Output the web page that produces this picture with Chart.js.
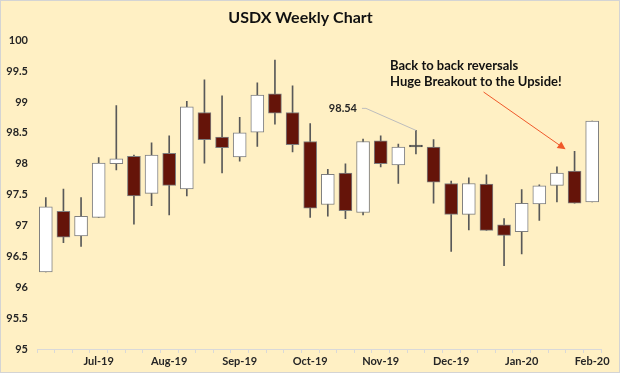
<!DOCTYPE html>
<html>
<head>
<meta charset="utf-8">
<script src="https://cdn.jsdelivr.net/npm/chart.js@4.4.1/dist/chart.umd.min.js"></script>
<style>
  html, body { margin: 0; padding: 0; background: #fff; }
  canvas { display: block; }
</style>
</head>
<body>
<canvas id="usdx" width="620" height="373"></canvas>
<script>
// weekly USDX candles, jul 2019 - feb 2020
const weeks = [
  '2019-07-01', '2019-07-08', '2019-07-15', '2019-07-22', '2019-07-29',
  '2019-08-05', '2019-08-12', '2019-08-19', '2019-08-26',
  '2019-09-02', '2019-09-09', '2019-09-16', '2019-09-23', '2019-09-30',
  '2019-10-07', '2019-10-14', '2019-10-21', '2019-10-28',
  '2019-11-04', '2019-11-11', '2019-11-18', '2019-11-25',
  '2019-12-02', '2019-12-09', '2019-12-16', '2019-12-23', '2019-12-30',
  '2020-01-06', '2020-01-13', '2020-01-20', '2020-01-27', '2020-02-03',
];
const opens = [
  96.25, 97.23, 96.83, 97.13, 98.00, 98.12, 97.52, 98.17, 97.59, 98.83,
  98.43, 98.11, 98.51, 99.13, 98.83, 98.36, 97.34, 97.85, 97.21, 98.37,
  97.98, 98.27, 98.27, 97.68, 97.18, 97.67, 97.01, 96.90, 97.35, 97.65,
  97.88, 97.38,
];
const highs = [
  97.45, 97.59, 97.45, 98.10, 98.94, 98.14, 98.34, 98.45, 99.01, 99.36,
  99.10, 98.75, 99.31, 99.68, 99.26, 98.65, 97.91, 98.00, 98.40, 98.45,
  98.32, 98.54, 98.39, 97.72, 97.77, 97.82, 97.11, 97.58, 97.66, 97.95,
  98.20, 98.69,
];
const lows = [
  96.25, 96.72, 96.66, 97.13, 97.90, 97.02, 97.32, 97.17, 97.48, 98.01,
  97.85, 98.04, 98.28, 98.64, 98.19, 97.13, 97.15, 97.11, 97.17, 97.95,
  97.68, 98.16, 97.36, 96.58, 96.93, 96.92, 96.35, 96.54, 97.08, 97.38,
  97.36, 97.38,
];
const closes = [
  97.30, 96.81, 97.15, 98.01, 98.08, 97.48, 98.14, 97.65, 98.92, 98.39,
  98.26, 98.50, 99.11, 98.82, 98.31, 97.28, 97.83, 97.24, 98.36, 98.00,
  98.27, 98.27, 97.70, 97.18, 97.68, 96.92, 96.84, 97.36, 97.64, 97.85,
  97.36, 98.69,
];

const monthLabels = ['Jul-19', 'Aug-19', 'Sep-19', 'Oct-19', 'Nov-19', 'Dec-19', 'Jan-20', 'Feb-20'];
const monthIdx = [3, 7, 11, 15, 19, 23, 27, 31];
const yTicks = [95, 95.5, 96, 96.5, 97, 97.5, 98, 98.5, 99, 99.5, 100];

const calloutIdx = 21; // the doji with the 98.54 high
const arrowIdx = 30;
const note = ['Back to back reversals', 'Huge Breakout to the Upside!'];

const BG = '#FFF0C4';
const UP = '#FFFFFF';
const DOWN = '#651409';
const DOJI = '#4d4d4d';
const FONT = 'Lato, "Open Sans", sans-serif';

// fond + cadre gris
const background = {
  id: 'background',
  beforeDraw(chart) {
    const c = chart.ctx;
    c.save();
    c.fillStyle = BG;
    c.fillRect(0, 0, chart.width, chart.height);
    c.strokeStyle = '#d4d4d4';
    c.lineWidth = 1;
    c.strokeRect(0.5, 0.5, chart.width - 1, chart.height - 1);
    c.restore();
  },
};

// annotations : label 98.54 et flèche
const notes = {
  id: 'notes',
  afterDatasetsDraw(chart) {
    const c = chart.ctx;
    const x = chart.scales.x;
    const y = chart.scales.y;
    c.save();

    const px = x.getPixelForValue(calloutIdx);
    const py = y.getPixelForValue(highs[calloutIdx]);
    c.font = 'bold 11px ' + FONT;
    c.fillStyle = '#262626';
    c.textAlign = 'center';
    c.textBaseline = 'middle';
    const lx = px - 73;
    const ly = py - 22;
    c.fillText(highs[calloutIdx].toFixed(2), lx, ly);
    c.strokeStyle = '#bdbdbd';
    c.lineWidth = 1;
    c.beginPath();
    c.moveTo(lx + 19, ly);
    c.lineTo(lx + 23, ly);
    c.lineTo(px, py);
    c.stroke();

    c.font = 'bold 13px ' + FONT;
    c.fillStyle = '#111';
    c.textAlign = 'left';
    c.fillText(note[0], 390, 66);
    c.fillText(note[1], 390, 82);

    const ax = x.getPixelForValue(arrowIdx) - 9;
    const ay = y.getPixelForValue(highs[arrowIdx]) - 2;
    const sx = ax - 82;
    const sy = 92;
    const ang = Math.atan2(ay - sy, ax - sx);
    c.strokeStyle = '#F0592A';
    c.fillStyle = '#F0592A';
    c.beginPath();
    c.moveTo(sx, sy);
    c.lineTo(ax - 5 * Math.cos(ang), ay - 5 * Math.sin(ang));
    c.stroke();
    c.beginPath();
    c.moveTo(ax, ay);
    c.lineTo(ax - 8 * Math.cos(ang) + 4 * Math.sin(ang), ay - 8 * Math.sin(ang) - 4 * Math.cos(ang));
    c.lineTo(ax - 8 * Math.cos(ang) - 4 * Math.sin(ang), ay - 8 * Math.sin(ang) + 4 * Math.cos(ang));
    c.closePath();
    c.fill();
    c.restore();
  },
};

const bodies = opens.map((o, i) => [o, closes[i]]);
const wicks = lows.map((l, i) => [l, highs[i]]);
const bodyColors = opens.map((o, i) => (closes[i] === o ? DOJI : closes[i] > o ? UP : DOWN));
const borderColors = opens.map((o, i) => (closes[i] === o ? DOJI : '#7f7f7f'));

new Chart(document.getElementById('usdx'), {
  type: 'bar',
  data: {
    labels: weeks,
    datasets: [
      {
        label: 'body',
        data: bodies,
        backgroundColor: bodyColors,
        borderColor: borderColors,
        borderWidth: 1,
        borderSkipped: false,
        barThickness: 13,
        minBarLength: 2,
        grouped: false,
        order: 0,
      },
      {
        label: 'wick',
        data: wicks,
        backgroundColor: '#595959',
        borderWidth: 0,
        barThickness: 1,
        grouped: false,
        order: 1,
      },
    ],
  },
  options: {
    responsive: false,
    animation: false,
    layout: {padding: {top: 0, left: 0, right: 19, bottom: 0}},
    plugins: {
      legend: {display: false},
      tooltip: {enabled: false},
      title: {
        display: true,
        text: 'USDX Weekly Chart',
        color: '#111',
        font: {family: FONT, size: 16, weight: 'bold'},
        padding: {top: 8, bottom: 13},
      },
    },
    scales: {
      x: {
        type: 'category',
        grid: {
          display: true,
          drawOnChartArea: false,
          offset: true,
          tickLength: 4,
          color: '#d9d9d9',
        },
        border: {display: true, color: '#d9d9d9'},
        ticks: {
          autoSkip: false,
          maxRotation: 0,
          padding: 2,
          color: '#262626',
          font: {family: FONT, size: 11, weight: 'bold'},
          callback: (v, i) => {
            const k = monthIdx.indexOf(i);
            return k >= 0 ? monthLabels[k] : '';
          },
        },
        afterFit: (s) => { s.height = 24; },
      },
      y: {
        min: 95,
        max: 100,
        grid: {display: false, drawTicks: false},
        border: {display: false},
        afterBuildTicks: (s) => { s.ticks = yTicks.map((v) => ({value: v})); },
        afterFit: (s) => { s.width = 37; },
        ticks: {
          padding: 9,
          color: '#262626',
          font: {family: FONT, size: 11, weight: 'bold'},
          callback: (v) => String(v),
        },
      },
    },
  },
  plugins: [background, notes],
});
</script>
</body>
</html>
